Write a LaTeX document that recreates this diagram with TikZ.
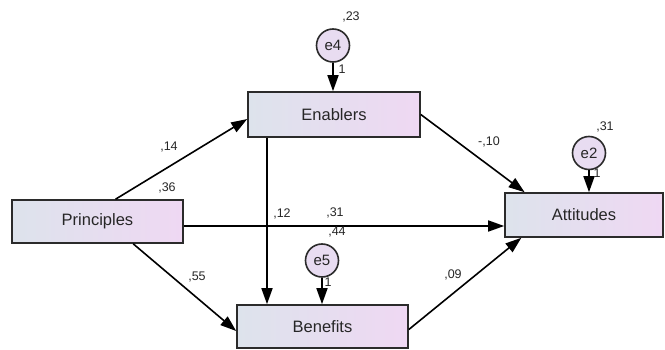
\documentclass[tikz,border=0pt]{standalone}
\usepackage{fontspec}
\setmainfont{Liberation Sans}
\usetikzlibrary{arrows.meta}

\definecolor{izq}{HTML}{DDE3EC}
\definecolor{der}{HTML}{EFD8F3}
\definecolor{circ}{HTML}{E8DCF1}
\definecolor{borde}{HTML}{2B2B2B}
\definecolor{texto}{HTML}{262626}

\begin{document}
\begin{tikzpicture}[x=1pt,y=-1pt,
  caja/.style={draw=borde,line width=1.6pt,left color=izq,right color=der,
    minimum height=43pt,inner sep=0pt,text=texto,font=\fontsize{16.5}{18}\selectfont},
  error/.style={circle,draw=borde,line width=1.6pt,fill=circ,minimum size=33pt,
    inner sep=0pt,text=texto,font=\fontsize{15}{17}\selectfont},
  flecha/.style={draw=black,line width=1.6pt,-{Triangle[length=16pt,width=11pt]}},
  num/.style={inner sep=0pt,text=texto,font=\fontsize{12.5}{14}\selectfont}]
% Marco: (X,Y) en pixeles, Y hacia abajo
\useasboundingbox (0,0) rectangle (665,350);

% Variables observadas
\node[caja,minimum width=171pt] (pri) at (97.5,221.5) {Principles};
\node[caja,minimum width=172pt,minimum height=45pt] (enab) at (334,114.5) {Enablers};
\node[caja,minimum width=158pt,minimum height=44pt] (att) at (584,215) {Attitudes};
\node[caja,minimum width=171pt] (ben) at (322.5,326.5) {Benefits};

% Errores
\node[error] (e4) at (333,45.5) {e4};
\node[error] (e2) at (589,153) {e2};
\node[error] (e5) at (322,260.5) {e5};

% Flechas de los errores
\draw[flecha] (e4) -- (e4 |- enab.north);
\draw[flecha] (e2) -- (e2 |- att.north);
\draw[flecha] (e5) -- (e5 |- ben.north);

% Caminos entre variables
\coordinate (p0) at ([yshift=-4.5pt]pri.east);
\coordinate (q0) at ([xshift=-67pt]enab.south);
\draw[flecha] (pri.51) -- (enab.183);
\draw[flecha] (p0) -- (p0 -| att.west);
\draw[flecha] (pri.-32) -- (ben.183);
\draw[flecha] (q0) -- (q0 |- ben.north);
\draw[flecha] (enab.east) -- (att.159);
\draw[flecha] (ben.-2) -- (att.200);

% Coeficientes
\node[num] (c14) at (169,147) {,14};
\node[num] (c36) at (167,188) {,36};
\node[num] (c23) at (351,17) {,23};
\node[num] (u4) at (342,69) {1};
\node[num] (c10) at (489,142) {-,10};
\node[num] (c31a) at (605,127) {,31};
\node[num] (u2) at (597,173) {1};
\node[num] (c12) at (282,214) {,12};
\node[num] (c31b) at (335,213) {,31};
\node[num] (c44) at (337,232) {,44};
\node[num] (u5) at (328,282) {1};
\node[num] (c55) at (197,277) {,55};
\node[num] (c09) at (453,275) {,09};
\end{tikzpicture}
\end{document}
